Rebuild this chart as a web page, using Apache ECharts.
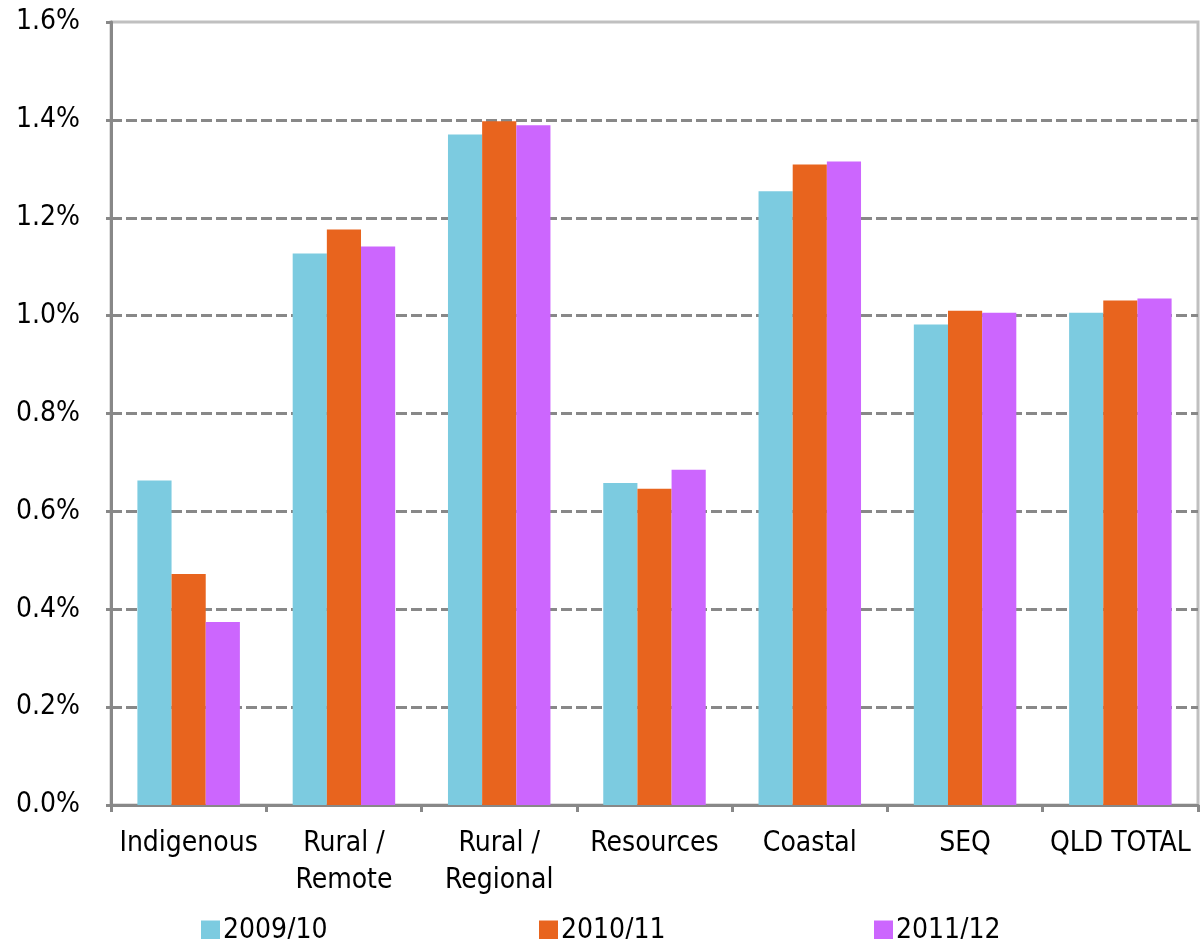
<!DOCTYPE html>
<html>
<head>
<meta charset="utf-8">
<script src="https://cdn.jsdelivr.net/npm/echarts@6/dist/echarts.min.js"></script>
<style>
    html, body { margin: 0; padding: 0; background: #fff; }
    #myChart { width: 1204px; height: 939px; }
</style>
</head>
<body>
<div id="myChart"></div>
<script>
    // categories and series values (percent)
    var categories = ['Indigenous', 'Rural /\nRemote', 'Rural /\nRegional', 'Resources', 'Coastal', 'SEQ', 'QLD TOTAL'];
    var s2009 = [0.663, 1.127, 1.370, 0.658, 1.254, 0.982, 1.006];
    var s2010 = [0.472, 1.176, 1.397, 0.646, 1.309, 1.010, 1.031];
    var s2011 = [0.374, 1.141, 1.389, 0.685, 1.315, 1.006, 1.035];
    var seriesNames = ['2009/10', '2010/11', '2011/12'];
    var colors = ['#7ccbe0', '#e8641e', '#cc66fe'];

    var font = '"DejaVu Sans Condensed", "DejaVu Sans"';
    var myChart = echarts.init(document.getElementById('myChart'));

    // one legend per item so they sit where the original has them
    var legendLeft = [196, 534, 869];
    var legends = seriesNames.map(function (name, i) {
        return {
            data: [name],
            left: legendLeft[i],
            top: 912,
            itemWidth: 19,
            itemHeight: 21,
            itemGap: 0,
            icon: 'rect',
            textStyle: {fontFamily: font, fontSize: 28, color: '#000', padding: [0, 0, 0, -2]}
        };
    });

    var option = {
        animation: false,
        color: colors,
        legend: legends,
        grid: {
            left: 111, right: 6, top: 22, bottom: 134,
            show: true,
            borderColor: '#c0c0c0',
            borderWidth: 3
        },
        xAxis: {
            type: 'category',
            data: categories,
            axisLine: {lineStyle: {color: '#888', width: 3}},
            axisTick: {show: true, length: 7, lineStyle: {color: '#888', width: 3}},
            axisLabel: {
                fontFamily: font, fontSize: 28, color: '#000',
                margin: 20, lineHeight: 37, interval: 0
            }
        },
        yAxis: {
            type: 'value',
            min: 0, max: 1.6, interval: 0.2,
            axisLine: {show: true, lineStyle: {color: '#888', width: 3}},
            axisTick: {show: true, length: 5, lineStyle: {color: '#888', width: 3}},
            axisLabel: {
                fontFamily: font, fontSize: 28, color: '#000', margin: 31,
                formatter: function (v) { return v.toFixed(1) + '%'; }
            },
            splitLine: {
                show: true,
                lineStyle: {
                    color: ['#888', '#888', '#888', '#888', '#888', '#888', '#888', '#888', 'rgba(0,0,0,0)'],
                    width: 3,
                    type: [11, 4]
                }
            }
        },
        series: [
            {name: seriesNames[0], type: 'bar', data: s2009, barGap: '0%', barCategoryGap: '34%'},
            {name: seriesNames[1], type: 'bar', data: s2010, barGap: '0%', barCategoryGap: '34%'},
            {name: seriesNames[2], type: 'bar', data: s2011, barGap: '0%', barCategoryGap: '34%'}
        ]
    };

    myChart.setOption(option);
</script>
</body>
</html>
